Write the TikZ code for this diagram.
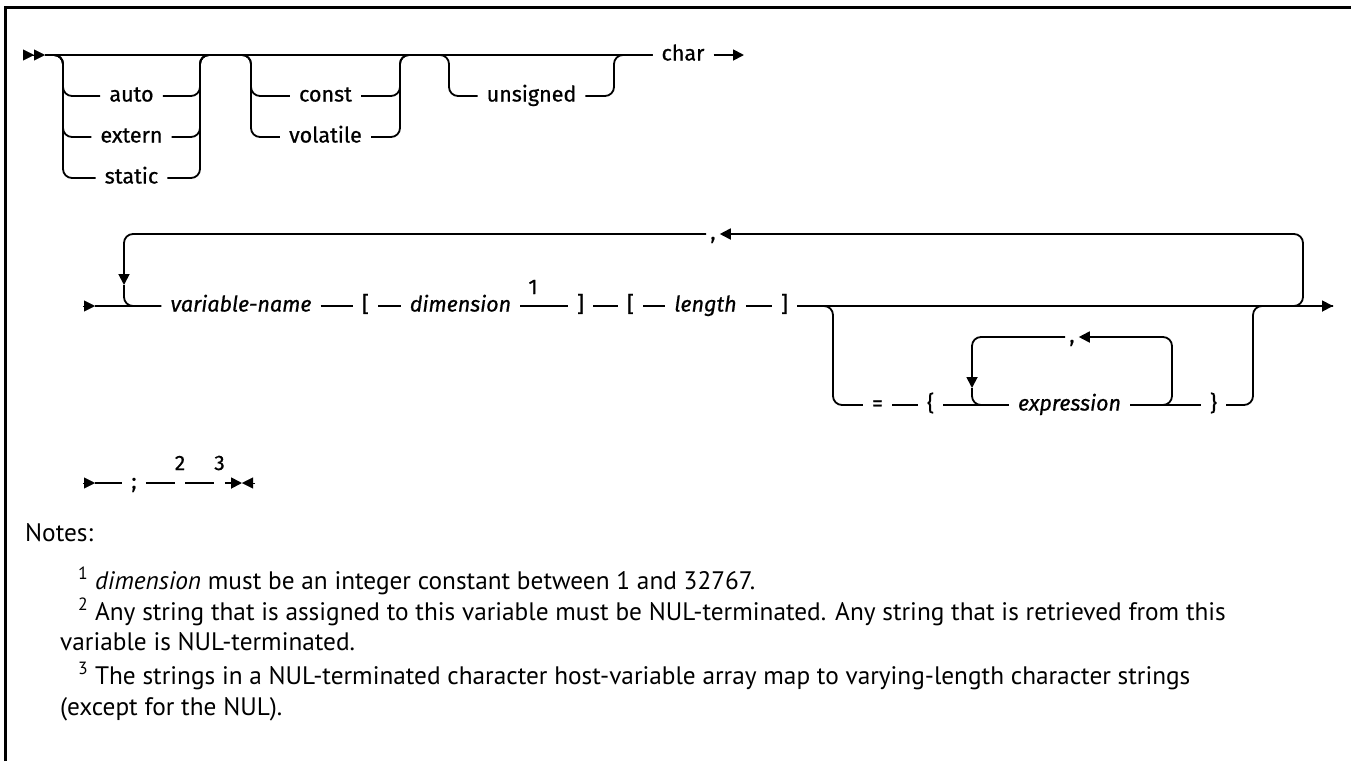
\documentclass[tikz,border=0pt]{standalone}
\usepackage{fontspec}
\setmainfont{PT Sans}
\newfontfamily\railfont{Fira Sans}[FakeBold=0.7]
\usetikzlibrary{arrows.meta}

\begin{document}
\begin{tikzpicture}[
  x=1pt, y=-1pt,
  >={Triangle[length=11pt,width=11pt]},
  rail/.style={line width=1.8pt, rounded corners=9pt},
  term/.style={font=\railfont\fontsize{21.5}{25}\selectfont, inner xsep=9pt,
    inner ysep=0pt, text height=17pt, text depth=6pt},
  var/.style={term, font=\railfont\itshape\fontsize{21.5}{25}\selectfont},
  fnote/.style={font=\railfont\fontsize{21}{24}\selectfont, inner sep=0pt},
  note/.style={anchor=base west, inner sep=0pt, font=\fontsize{25.3}{30}\selectfont}
]
  \useasboundingbox (0,0) rectangle (1351,761);
  \draw[line width=2.5pt] (5.5,761) -- (5.5,7.5) -- (1351,7.5);

  % first row: storage class, qualifiers, sign
  \coordinate (start) at (45,55);
  \coordinate (b1l) at (63,55);
  \coordinate (b1r) at (200,55);
  \coordinate (b2l) at (251,55);
  \coordinate (b2r) at (400,55);
  \coordinate (b3l) at (449,55);
  \coordinate (b3r) at (614,55);
  \coordinate (end1) at (744,55);
  \node[term] (auto) at (131.5,96) {auto};
  \node[term] (extern) at (131.5,137) {extern};
  \node[term] (static) at (131.5,178) {static};
  \node[term] (const) at (325.5,96) {const};
  \node[term] (volatile) at (325.5,137) {volatile};
  \node[term] (unsigned) at (531.5,96) {unsigned};
  \node[term] (char) at (683,55) {char};

  \draw[->>] (24,55) -- (start);
  \draw[rail] (start) -- (char.west);
  \foreach \alt/\bl/\br in {auto/b1l/b1r, extern/b1l/b1r, static/b1l/b1r,
      const/b2l/b2r, volatile/b2l/b2r, unsigned/b3l/b3r}
    \draw[rail] (start) -| (\bl |- \alt) -- (\alt.west)
      (\alt.east) -| (\br) -- (char.west);
  \draw[rail,->] (char.east) -- (end1);

  % second row: declarator with repeat loop
  \coordinate (start2) at (95,306);
  \coordinate (end2) at (1333,306);
  \coordinate (lpl) at (124,285);
  \coordinate (lpr) at (1303,306);
  \coordinate (b4l) at (833,306);
  \coordinate (b4r) at (1253,306);
  \coordinate (ilarr) at (972,388);
  \coordinate (ir) at (1172,405);
  \node[var] (varname) at (241,306) {variable-name};
  \node[term] (lbra) at (365.5,306) {[};
  \node[var] (dim) at (460.5,306) {dimension};
  \node[fnote] (fnA) at (533,287) {1};
  \node[term] (rbra) at (580.5,306) {]};
  \node[term] (lbrb) at (630.5,306) {[};
  \node[var] (len) at (705.5,306) {length};
  \node[term] (rbrb) at (784.5,306) {]};
  \node[term, inner xsep=4pt] (comA) at (713,234) {,};
  \node[term] (eq) at (877.5,405) {=};
  \node[term] (lbrc) at (930.5,405) {\{};
  \node[var] (expr) at (1069.5,405) {expression};
  \node[term] (rbrc) at (1213.5,405) {\}};
  \node[term, inner xsep=4pt] (comB) at (1072,337) {,};

  \draw[->] ([xshift=-12pt]start2) -- (start2);
  \draw[rail] (start2) -- (varname.west);
  \draw[rail] (varname.east) -- (lbra.west);
  \draw[rail] (lbra.east) -- (dim.west);
  \draw[rail] (dim.east) -- (rbra.west);
  \draw[rail] (rbra.east) -- (lbrb.west);
  \draw[rail] (lbrb.east) -- (len.west);
  \draw[rail] (len.east) -- (rbrb.west);
  \draw[rail,->] (rbrb.east) -- (end2);
  % repeat loop
  \draw[rail,->] (rbrb.east) -| (lpr |- comA) -- (comA.east);
  \draw[rail,->] (comA.west) -| (lpl);
  \draw[rail] (lpl) |- (varname.west);
  % initializer branch
  \draw[rail] (rbrb.east) -| (b4l |- eq) -- (eq.west);
  \draw[rail] (eq.east) -- (lbrc.west);
  \draw[rail] (lbrc.east) -- (expr.west);
  \draw[rail] (expr.east) -- (rbrc.west);
  \draw[rail] (rbrc.east) -| (b4r) -- (end2);
  \draw[rail,->] (expr.east) -| (ir |- comB) -- (comB.east);
  \draw[rail,->] (comB.west) -| (ilarr);
  \draw[rail] (ilarr) |- (expr.west);

  % third row
  \coordinate (start3) at (95,483);
  \coordinate (end3) at (242,483);
  \node[term] (semi) at (134,483) {;};
  \node[fnote] (fnB) at (180,463) {2};
  \node[fnote] (fnC) at (219.5,463) {3};
  \draw[->] ([xshift=-12pt]start3) -- (start3);
  \draw[rail] (start3) -- (semi.west);
  \draw[rail] (semi.east) -- (fnB.west |- semi);
  \draw[rail] (fnB.east |- semi) -- (fnC.west |- semi);
  \draw[rail,->] (fnC.east |- semi) -- (end3);
  \draw[->] ([xshift=13pt]end3) -- (end3);

  % notes
  \node[note] (notes) at (25,541) {Notes:};
  \node[note] (nt1) at (78,589) {\textsuperscript{1} \textit{dimension} must be an integer constant between 1 and 32767.};
  \node[note] (nt2a) at (78,620) {\textsuperscript{2} Any string that is assigned to this variable must be NUL-terminated. Any string that is retrieved from this};
  \node[note] (nt2b) at (60,650) {variable is NUL-terminated.};
  \node[note] (nt3a) at (78,684) {\textsuperscript{3} The strings in a NUL-terminated character host-variable array map to varying-length character strings};
  \node[note] (nt3b) at (60,715) {(except for the NUL).};
\end{tikzpicture}
\end{document}
